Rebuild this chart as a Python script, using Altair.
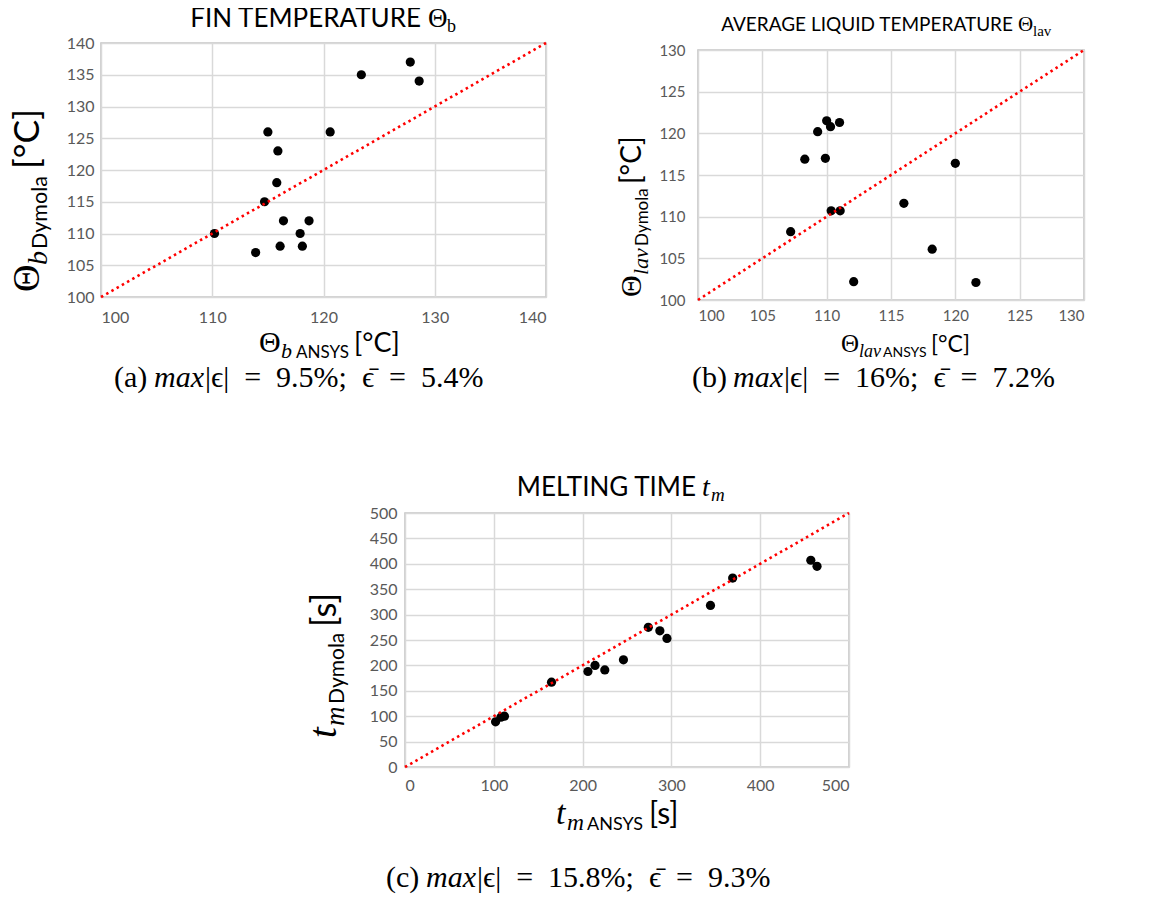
import altair as alt
import pandas as pd

# ---------------- data ----------------
fin_ansys = [123.4, 127.8, 128.6, 115.0, 120.6, 115.9, 115.8, 114.7, 116.4, 118.7, 110.2, 117.9, 113.9, 116.1, 118.1]
fin_dymola = [135, 137, 134, 126, 126, 123, 118, 115, 112, 112, 110, 110, 107, 108, 108]

liq_ansys = [110.0, 111.0, 110.3, 109.3, 108.3, 109.9, 120.0, 116.0, 110.35, 111.05, 107.2, 118.2, 112.1, 121.6]
liq_dymola = [121.5, 121.3, 120.8, 120.2, 116.9, 117.0, 116.4, 111.6, 110.7, 110.7, 108.2, 106.1, 102.2, 102.1]

melt_ansys = [102, 108, 112, 165, 206, 214, 225, 246, 274, 287, 295, 344, 369, 457, 464]
melt_dymola = [89, 98, 100, 167, 188, 200, 191, 211, 275, 268, 253, 318, 372, 407, 395]

fin_domain = [100, 140]
liq_domain = [100, 130]
melt_domain = [0, 500]

fin_xticks = [100, 110, 120, 130, 140]
fin_yticks = [100, 105, 110, 115, 120, 125, 130, 135, 140]
liq_ticks = [100, 105, 110, 115, 120, 125, 130]
melt_xticks = [0, 100, 200, 300, 400, 500]
melt_yticks = [0, 50, 100, 150, 200, 250, 300, 350, 400, 450, 500]

SANS = "Lato"
SERIF = "Liberation Serif"
ONE = pd.DataFrame({"k": [0]})
EQ = "\u2002=\u2002"
CAP = 30


def txt(s, x, y, size, font=SANS, style="normal", angle=0, align="left", color="black"):
    return alt.Chart(ONE).mark_text(
        text=s, font=font, fontSize=size, fontStyle=style, angle=angle,
        align=align, baseline="alphabetic", color=color
    ).encode(x=alt.value(x), y=alt.value(y))


def panel(xs, ys, dom, xticks, yticks, W, H, texts, lab, xpad, ypad):
    df = pd.DataFrame({"x": xs, "y": ys})
    xsc = alt.Scale(domain=dom, nice=False, zero=False)
    ysc = alt.Scale(domain=dom, nice=False, zero=False)
    xax = alt.Axis(values=xticks, title=None, labelFontSize=lab, labelOverlap=False, labelPadding=xpad)
    yax = alt.Axis(values=yticks, title=None, labelFontSize=lab, labelOverlap=False, labelPadding=ypad)
    pts = alt.Chart(df).mark_circle(size=85, color="black", opacity=1).encode(
        x=alt.X("x:Q", scale=xsc, axis=xax),
        y=alt.Y("y:Q", scale=ysc, axis=yax),
    )
    diag = alt.Chart(pd.DataFrame({"x": dom, "y": dom})).mark_line(
        color="#ff0000", strokeDash=[2.5, 3.5], strokeWidth=2.6, strokeCap="butt"
    ).encode(x=alt.X("x:Q", scale=xsc, axis=xax), y=alt.Y("y:Q", scale=ysc, axis=yax))
    return alt.layer(pts, diag, *texts).properties(width=W, height=H)


# ---------------- panel (a) ----------------
Wa, Ha = 445, 254
texts_a = [
    txt("FIN TEMPERATURE", 320, -16, 26, align="right"),
    txt("Θ", 327, -16, 27, SERIF),
    txt("b", 346, -11, 18, SERIF),
    # x title
    txt("Θ", 158, Ha + 55, 30, SERIF),
    txt("b", 180, Ha + 61, 22, SERIF, "italic"),
    txt("ANSYS", 195, Ha + 61, 17),
    txt("[°C]", 253, Ha + 55, 27),
    # y title
    txt("Θ", -62, 249, 38, SERIF, angle=270),
    txt("b", -54, 222, 28, SERIF, "italic", angle=270),
    txt("Dymola", -54, 206, 21.5, angle=270),
    txt("[°C]", -62, 126, 35.5, angle=270),
    # caption
    txt("(a)", 13, 344, CAP, SERIF),
    txt("max", 53, 344, CAP, SERIF, "italic"),
    txt("|ϵ|" + EQ + "9.5%;\u2002ϵ\u0304" + EQ + "5.4%", 104, 344, CAP, SERIF),
]
chart_a = panel(fin_ansys, fin_dymola, fin_domain, fin_xticks, fin_yticks, Wa, Ha, texts_a, 16, 12, 7)

# ---------------- panel (b) ----------------
Wb, Hb = 386, 250
texts_b = [
    txt("AVERAGE LIQUID TEMPERATURE", 315, -19, 19, align="right"),
    txt("Θ", 320, -19, 21, SERIF),
    txt("lav", 335, -14, 15, SERIF),
    # x title
    txt("Θ", 143, Hb + 52, 25, SERIF),
    txt("lav", 161, Hb + 57, 18, SERIF, "italic"),
    txt("ANSYS", 185, Hb + 57, 14),
    txt("[°C]", 233, Hb + 52, 23),
    # y title
    txt("Θ", -57, 247, 30, SERIF, angle=270),
    txt("lav", -50, 225, 22, SERIF, "italic", angle=270),
    txt("Dymola", -50, 196, 17, angle=270),
    txt("[°C]", -57, 134, 28, angle=270),
    # caption
    txt("(b)", -6, 337, CAP, SERIF),
    txt("max", 35, 337, CAP, SERIF, "italic"),
    txt("|ϵ|" + EQ + "16%;\u2002ϵ\u0304" + EQ + "7.2%", 86, 337, CAP, SERIF),
]
chart_b = panel(liq_ansys, liq_dymola, liq_domain, liq_ticks, liq_ticks, Wb, Hb, texts_b, 15, 8, 13)

# ---------------- panel (c) ----------------
Wc, Hc = 444, 254
texts_c = [
    txt("MELTING TIME", 291, -17, 26, align="right"),
    txt("t", 297, -17, 28, SERIF, "italic"),
    txt("m", 306, -12, 19, SERIF, "italic"),
    # x title
    txt("t", 151, Hc + 57, 34, SERIF, "italic"),
    txt("m", 162, Hc + 63, 23.5, SERIF, "italic"),
    txt("ANSYS", 182, Hc + 63, 18),
    txt("[s]", 244, Hc + 57, 30),
    # y title
    txt("t", -69, 225, 39, SERIF, "italic", angle=270),
    txt("m", -61, 213, 27, SERIF, "italic", angle=270),
    txt("Dymola", -61, 191, 21, angle=270),
    txt("[s]", -69, 114, 34.5, angle=270),
    # caption
    txt("(c)", -19, 374, CAP, SERIF),
    txt("max", 21, 374, CAP, SERIF, "italic"),
    txt("|ϵ|" + EQ + "15.8%;\u2002ϵ\u0304" + EQ + "9.3%", 72, 374, CAP, SERIF),
]
chart_c = panel(melt_ansys, melt_dymola, melt_domain, melt_xticks, melt_yticks, Wc, Hc, texts_c, 16, 10, 8)

hidden = alt.ViewBackground(stroke="transparent")
spacer_c = alt.Chart(ONE).mark_point(opacity=0).encode(
    x=alt.value(0), y=alt.value(0)
).properties(width=304, height=10, view=hidden)
spacer_b = alt.Chart(ONE).mark_point(opacity=0).encode(
    x=alt.value(0), y=alt.value(0)
).properties(width=10, height=7, view=hidden)

col_b = alt.vconcat(spacer_b, chart_b, spacing=0, bounds="flush")
top = alt.hconcat(chart_a, col_b, spacing=152, bounds="flush")
bottom = alt.hconcat(spacer_c, chart_c, spacing=0, bounds="flush")

chart = alt.vconcat(top, bottom, spacing=470, bounds="flush").properties(
    padding={"left": 0, "top": -4, "right": 5, "bottom": 5}
).configure_view(
    stroke="#c4c4c4", strokeWidth=1.6
).configure_axis(
    grid=True, gridColor="#d9d9d9", gridWidth=1.5,
    domain=False, ticks=False,
    labelFont=SANS, labelFontSize=15, labelColor="#595959",
)

chart.save("out.html", embed_options={"renderer": "svg", "actions": False})
